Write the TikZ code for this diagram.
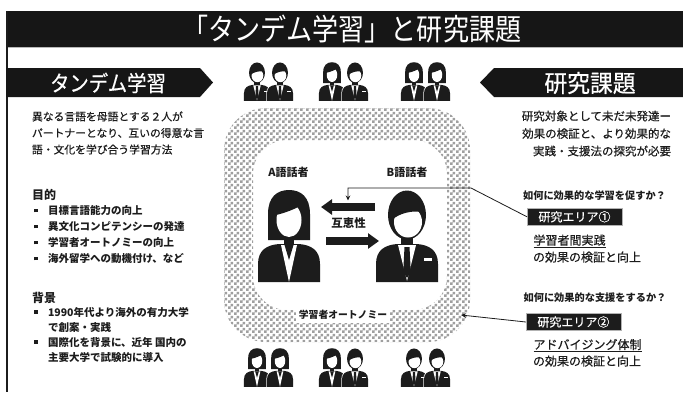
\documentclass[tikz,border=0pt]{standalone}
\usepackage{fontspec}
\setmainfont{Noto Sans CJK JP}
\newfontfamily\medium{Noto Sans CJK JP}[FakeBold=0.5]
\usetikzlibrary{arrows.meta,patterns}

\definecolor{ink}{HTML}{1C1C1C}
\definecolor{barc}{HTML}{161616}

% fine grey checker used for the autonomy ring
\pgfdeclarepatternformonly{finechecks}{\pgfpointorigin}{\pgfqpoint{6pt}{6pt}}{\pgfqpoint{6pt}{6pt}}{%
  \pgfpathrectangle{\pgfpointorigin}{\pgfqpoint{3pt}{3pt}}%
  \pgfpathrectangle{\pgfqpoint{3pt}{3pt}}{\pgfqpoint{3pt}{3pt}}%
  \pgfusepath{fill}}

\newcommand{\fsz}[1]{\fontsize{#1}{#1}\selectfont}
\newcommand{\bsq}{\rule[2.2pt]{3.6pt}{3.6pt}}

% shoulders shared by both figures (local units, head centre at origin, y down)
\newcommand{\torso}{(-31,64) -- (-31,46) .. controls (-31,32) and (-22,27) .. (-10,26) -- (10,26) .. controls (22,27) and (31,32) .. (31,46) -- (31,64) -- cycle}

% white outline so overlapping figures stay separate
\newcommand{\halo}{%
  \filldraw[white,line width=1.4pt] \torso;
  \filldraw[white,line width=1.4pt] (0,-3) ellipse (22 and 26.5);}

\newcommand{\womanfig}[3]{%
  \begin{scope}[shift={(#1,#2)},scale=#3]
    \halo
    \fill[ink] (-21,22) -- (-21,-4) .. controls (-21,-21) and (-12,-28) .. (0,-28)
      .. controls (12,-28) and (21,-21) .. (21,-4) -- (21,22) -- cycle;
    \fill[ink] (-5,16) rectangle (5,27);
    \fill[white] (0,2) ellipse (12.5 and 17);
    \fill[ink] (-13,-3) .. controls (-4,-5) and (6,-9) .. (13,-13) -- (13,-22) -- (-13,-22) -- cycle;
    \fill[ink] \torso;
    \fill[white] (-8,27) -- (8,27) -- (0,64) -- cycle;
    \fill[ink] (-4.5,27) -- (4.5,27) -- (0,42) -- cycle;
  \end{scope}}

\newcommand{\manfig}[3]{%
  \begin{scope}[shift={(#1,#2)},scale=#3]
    \halo
    \fill[ink] (0,-3) ellipse (19 and 24.5);
    \fill[ink] (-6,16) rectangle (6,27);
    \fill[white] (1,4) ellipse (14 and 15.5);
    \fill[ink] (-14,1) .. controls (-8,-4) and (4,-8) .. (15,-6) -- (13,-20) -- (-13,-20) -- cycle;
    \fill[ink] \torso;
    \fill[white] (-9,27) -- (9,27) -- (0,63) -- cycle;
    \fill[ink] (-2.5,29) -- (2.5,29) -- (3.8,54) -- (0,60) -- (-3.8,54) -- cycle;
    \fill[white] (17,40) rectangle (25,42.5);
  \end{scope}}

\begin{document}
\begin{tikzpicture}[x=1pt,y=-1pt,
  every node/.style={inner sep=0pt,outer sep=0pt,text=ink},
  txt/.style={anchor=base west},
  para/.style={txt,font=\fsz{10.8}\medium},
  rpara/.style={anchor=base east,font=\fsz{11.5}\medium},
  head/.style={txt,font=\fsz{12}\bfseries},
  item/.style={txt,font=\fsz{10.5}\bfseries},
  question/.style={anchor=base,font=\fsz{10.2}\bfseries},
  areabox/.style={fill=ink,draw=gray!60,line width=0.6pt,minimum width=95pt,minimum height=17pt,
    text=white,font=\fsz{12}\medium},
  result/.style={txt,font=\fsz{12}\medium},
  speaker/.style={anchor=base,font=\fsz{11}\bfseries},
  bandtext/.style={anchor=base,text=white},
  pointer/.style={ink,line width=0.8pt,-{Stealth[length=5pt,width=4.5pt]}},
  swap/.style={ink,line width=7.5pt,-{Triangle[length=11pt,width=15pt]}}]

\useasboundingbox (0,0) rectangle (683,392);
\fill[white] (0,0) rectangle (683,392);

% title bar and left rule
\fill[barc] (6,11) rectangle (683,47);
\draw[gray!55,line width=1.2pt] (6,47.6) -- (683,47.6);
\draw[ink,line width=2.4pt] (7.2,11) -- (7.2,392);
\node[anchor=base,font=\fsz{30},text=white,xscale=0.87] (title) at (352,40.5) {「タンデム学習」と研究課題};

% arrow banners
\fill[barc] (6,68) -- (200,68) -- (213,82.5) -- (200,97) -- (6,97) -- cycle;
\fill[barc] (683,68) -- (494,68) -- (480,82.5) -- (494,97) -- (683,97) -- cycle;
\node[bandtext,font=\fsz{22}\medium,xscale=0.88] (lefthead) at (108,91.4) {タンデム学習};
\node[bandtext,font=\fsz{24}\medium,xscale=0.95] (righthead) at (590,92.1) {研究課題};

% autonomy ring
\fill[pattern=finechecks,pattern color=gray!75,even odd rule]
  [rounded corners=42pt] (224,108) rectangle (470,342)
  [rounded corners=34pt] (253,140) rectangle (447,310);
\node[anchor=base,font=\fsz{9.8}\bfseries,fill=white,inner sep=3pt] (autonomy) at (343,318.7) {学習者オートノミー};

% learner pairs above and below
\manfig{257}{74}{0.42}   \manfig{280}{74}{0.42}
\womanfig{332}{74}{0.42} \manfig{355}{74}{0.42}
\womanfig{414}{74}{0.42} \womanfig{437}{74}{0.42}
\womanfig{257}{360}{0.42} \womanfig{280}{360}{0.42}
\womanfig{332}{360}{0.42} \manfig{355}{360}{0.42}
\manfig{414}{360}{0.42}  \manfig{437}{360}{0.42}

% the two partners
\womanfig{289}{218}{1}
\manfig{407}{218}{1}
\node[speaker] (spA) at (288.5,176.2) {A語話者};
\node[speaker] (spB) at (407,176.2) {B語話者};
\coordinate (bStart) at (375,207);
\coordinate (aEnd) at (321,207);
\coordinate (aStart) at (326,241);
\coordinate (bEnd) at (379,241);
\draw[swap] (bStart) -- (aEnd);
\draw[swap] (aStart) -- (bEnd);
\node[anchor=base,font=\fsz{11.5}\bfseries] (recip) at (348.5,227.7) {互恵性};

% left column
\node[para] (def1) at (32,120.6) {異なる言語を母語とする２人が};
\node[para] (def2) at (32,137.1) {パートナーとなり、互いの得意な言};
\node[para] (def3) at (32,153.6) {語・文化を学び合う学習方法};

\node[head] (aimhead) at (32,199.6) {目的};
\node[item] (aim1) at (34,214.5) {\makebox[14pt][l]{\bsq}目標言語能力の向上};
\node[item] (aim2) at (34,230.5) {\makebox[14pt][l]{\bsq}異文化コンピテンシーの発達};
\node[item] (aim3) at (34,246.5) {\makebox[14pt][l]{\bsq}学習者オートノミーの向上};
\node[item] (aim4) at (34,262.5) {\makebox[14pt][l]{\bsq}海外留学への動機付け、など};

\node[head] (bghead) at (32,302.6) {背景};
\node[item] (bg1a) at (34,316) {\makebox[14pt][l]{\bsq}1990年代より海外の有力大学};
\node[item] (bg1b) at (48,331) {で創案・実践};
\node[item] (bg2a) at (34,346) {\makebox[14pt][l]{\bsq}国際化を背景に、近年 国内の};
\node[item] (bg2b) at (48,361) {主要大学で試験的に導入};

% right column
\node[rpara] (need1) at (671,120.4) {研究対象として未だ未発達ー};
\node[rpara] (need2) at (671,137.9) {効果の検証と、より効果的な};
\node[rpara] (need3) at (671,155.4) {実践・支援法の探究が必要};

\node[question] (q1) at (594.5,199.9) {如何に効果的な学習を促すか？};
\node[areabox] (area1) at (574.5,216.8) {研究エリア①};
\node[result] (r1a) at (533.5,244.7) {\underline{学習者間実践}};
\node[result] (r1b) at (533,261.6) {の効果の検証と向上};

\node[question] (q2) at (595,301.7) {如何に効果的な支援をするか？};
\node[areabox] (area2) at (573.4,322) {研究エリア②};
\node[result] (r2a) at (533.5,349.1) {\underline{アドバイジング体制}};
\node[result] (r2b) at (533,365.6) {の効果の検証と向上};

% pointers from the research areas
\coordinate (tipA) at (348,200.5);
\coordinate (tipB) at (461,315);
\draw[pointer] (area1.west) -- (471,188) -- (348,188) -- (tipA);
\draw[pointer] (area2.west) -- (tipB);

\end{tikzpicture}
\end{document}
